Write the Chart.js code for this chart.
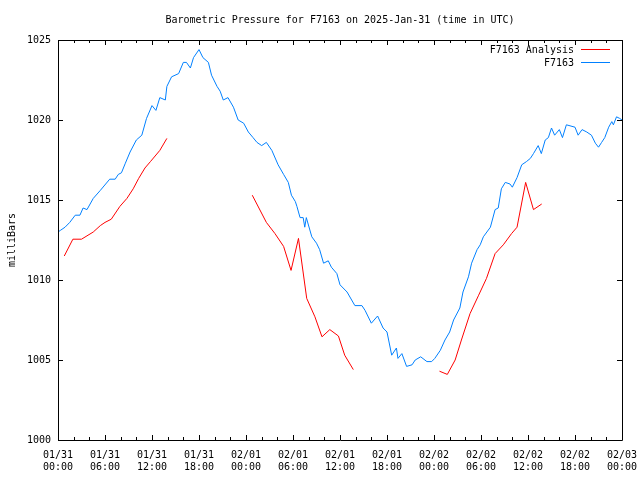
<!DOCTYPE html>
<html>
<head>
<meta charset="utf-8">
<script src="https://cdn.jsdelivr.net/npm/chart.js@4.4.1/dist/chart.umd.min.js"></script>
<style>
  body { margin: 0; background: #fff; }
  canvas { display: block; }
</style>
</head>
<body>
<canvas id="myChart" width="640" height="480"></canvas>
<script>
// hours since 01/31 00:00 UTC
const analysisHours = [0.8, 1.9, 3.0, 4.5, 5.4, 6.0, 6.8, 7.9, 8.8, 9.6, 10.3, 11.1, 11.8, 13.0, 13.9,
  20,
  24.8, 26.6, 27.7, 28.8, 29.75, 30.7, 31.75, 32.8, 33.7, 34.7, 35.8, 36.6, 37.7,
  43,
  48.7, 49.7, 50.7, 51.5, 52.6, 53.7, 54.7, 55.8, 56.85, 57.9, 58.6, 59.7, 60.7, 61.75];
const analysisPressure = [1011.5, 1012.55, 1012.55, 1013.0, 1013.4, 1013.6, 1013.8, 1014.6, 1015.1, 1015.7, 1016.35, 1017.0, 1017.4, 1018.1, 1018.85,
  null,
  1015.3, 1013.6, 1012.9, 1012.1, 1010.6, 1012.6, 1008.85, 1007.7, 1006.45, 1006.9, 1006.5, 1005.3, 1004.4,
  null,
  1004.3, 1004.1, 1005.0, 1006.25, 1007.9, 1009.05, 1010.1, 1011.65, 1012.2, 1012.9, 1013.3, 1016.1, 1014.4, 1014.75];

const stationHours = [0, 0.3, 0.9, 1.5, 2.2, 2.8, 3.2, 3.7, 4.5, 5.4, 6.6, 7.3, 7.7, 8.1, 8.6, 9.2, 10.0, 10.7, 11.3, 12.0,
  12.5, 13.0, 13.7, 13.9, 14.5, 15.4, 16.0, 16.4, 16.9, 17.3, 18.0, 18.5, 19.2, 19.6, 20.3, 20.7, 21.1, 21.7, 22.4, 23.0,
  23.7, 24.3, 24.9, 25.4, 26.0, 26.6, 27.3, 28.1, 28.8, 29.4, 29.8, 30.3, 30.5, 30.9, 31.3, 31.5, 31.7, 32.4, 33.0, 33.4,
  33.9, 34.5, 34.9, 35.6, 36.0, 36.9, 37.9, 38.8, 39.2, 40.0, 40.8, 41.5, 42.0, 42.6, 43.2, 43.4, 43.9, 44.5, 45.2, 45.6,
  46.3, 47.1, 47.7, 48.1, 48.8, 49.4, 50.0, 50.5, 51.3, 51.7, 52.4, 52.8, 53.5, 53.9, 54.3, 55.2, 55.8, 56.2, 56.6, 57.1,
  57.7, 58.0, 58.6, 59.2, 59.8, 60.3, 60.7, 61.3, 61.7, 62.2, 62.6, 63.0, 63.4, 64.0, 64.4, 64.9, 66.0, 66.4, 66.9, 67.5,
  68.1, 68.6, 69.0, 69.4, 69.8, 70.3, 70.7, 70.9, 71.3, 71.7, 72.0];
const stationPressure = [1013.0, 1013.1, 1013.3, 1013.6, 1014.05, 1014.05, 1014.5, 1014.4, 1015.1, 1015.6, 1016.3, 1016.3, 1016.6, 1016.7, 1017.3, 1018.0, 1018.75, 1019.05, 1020.1, 1020.9,
  1020.6, 1021.4, 1021.25, 1022.1, 1022.7, 1022.9, 1023.6, 1023.6, 1023.25, 1023.9, 1024.4, 1023.9, 1023.6, 1022.8, 1022.1, 1021.8, 1021.25, 1021.4, 1020.8, 1020.0,
  1019.8, 1019.25, 1018.9, 1018.6, 1018.4, 1018.6, 1018.1, 1017.2, 1016.6, 1016.1, 1015.3, 1014.9, 1014.6, 1013.9, 1013.9, 1013.3, 1013.9, 1012.7, 1012.3, 1011.9,
  1011.05, 1011.2, 1010.8, 1010.4, 1009.7, 1009.25, 1008.4, 1008.4, 1008.1, 1007.3, 1007.75, 1007.0, 1006.75, 1005.3, 1005.75, 1005.1, 1005.4, 1004.6, 1004.7, 1005.0,
  1005.2, 1004.9, 1004.9, 1005.1, 1005.6, 1006.25, 1006.75, 1007.5, 1008.25, 1009.25, 1010.2, 1011.05, 1011.9, 1012.2, 1012.7, 1013.3, 1014.4, 1014.5, 1015.7, 1016.1,
  1016.0, 1015.8, 1016.4, 1017.2, 1017.4, 1017.6, 1017.9, 1018.4, 1017.9, 1018.75, 1018.9, 1019.5, 1019.05, 1019.4, 1018.9, 1019.7, 1019.55, 1019.05, 1019.4, 1019.25,
  1019.05, 1018.55, 1018.3, 1018.6, 1018.9, 1019.55, 1019.9, 1019.7, 1020.2, 1020.1, 1020.0];

const dayLabels = ['01/31', '02/01', '02/02', '02/03'];
const hourLabels = ['00:00', '06:00', '12:00', '18:00'];
const yTicks = [1000, 1005, 1010, 1015, 1020, 1025];

const chartTitle = 'Barometric Pressure for F7163 on 2025-Jan-31 (time in UTC)';
const seriesNames = ['F7163 Analysis', 'F7163'];
const seriesColors = ['#ff0000', '#0080ff'];

function toPoints(xs, ys) {
  return xs.map(function (x, i) { return { x: x, y: ys[i] }; });
}

const FONT = "'DejaVu Sans Mono', 'Liberation Mono', monospace";
Chart.defaults.font.family = FONT;
Chart.defaults.font.size = 10;
Chart.defaults.color = '#000000';

// gnuplot style box, inward tics, title and key
const gnuFrame = {
  id: 'gnuFrame',
  afterDatasetsDraw(chart) {
    const ctx = chart.ctx;
    const a = chart.chartArea;
    const xs = chart.scales.x;
    const ys = chart.scales.y;
    ctx.save();
    ctx.strokeStyle = '#000';
    ctx.lineWidth = 1;
    ctx.beginPath();
    ctx.rect(Math.round(a.left) + 0.5, Math.round(a.top) + 0.5, Math.round(a.right - a.left), Math.round(a.bottom - a.top));
    xs.ticks.forEach(function (t) {
      const px = Math.round(xs.getPixelForValue(t.value)) + 0.5;
      const len = t.value % 6 === 0 ? 5 : 3;
      ctx.moveTo(px, a.bottom); ctx.lineTo(px, a.bottom - len);
      ctx.moveTo(px, a.top); ctx.lineTo(px, a.top + len);
    });
    ys.ticks.forEach(function (t) {
      const py = Math.round(ys.getPixelForValue(t.value)) + 0.5;
      ctx.moveTo(a.left, py); ctx.lineTo(a.left + 5, py);
      ctx.moveTo(a.right, py); ctx.lineTo(a.right - 5, py);
    });
    ctx.stroke();

    ctx.font = '10px ' + FONT;
    ctx.fillStyle = '#000';
    ctx.textAlign = 'center';
    ctx.textBaseline = 'middle';
    ctx.fillText(chartTitle, (a.left + a.right) / 2, 20);

    ctx.textAlign = 'right';
    chart.data.datasets.forEach(function (ds, i) {
      const y = Math.round(a.top + 9 + i * 13);
      ctx.fillStyle = '#000';
      ctx.fillText(ds.label, a.right - 48, y + 1);
      ctx.strokeStyle = ds.borderColor;
      ctx.beginPath();
      ctx.moveTo(a.right - 41, y + 0.5);
      ctx.lineTo(a.right - 12, y + 0.5);
      ctx.stroke();
    });
    ctx.restore();
  }
};

new Chart(document.getElementById('myChart'), {
  type: 'line',
  data: {
    datasets: [{
      label: seriesNames[0],
      data: toPoints(analysisHours, analysisPressure),
      borderColor: seriesColors[0],
      borderWidth: 1,
      pointRadius: 0,
      spanGaps: false,
      tension: 0
    }, {
      label: seriesNames[1],
      data: toPoints(stationHours, stationPressure),
      borderColor: seriesColors[1],
      borderWidth: 1,
      pointRadius: 0,
      tension: 0
    }]
  },
  options: {
    responsive: false,
    animation: false,
    devicePixelRatio: 1,
    layout: { padding: { left: 0, right: 18, top: 40, bottom: 0 } },
    plugins: {
      legend: { display: false },
      tooltip: { enabled: false },
      title: { display: false }
    },
    scales: {
      x: {
        type: 'linear',
        min: 0,
        max: 72,
        grid: { display: false },
        border: { display: false },
        afterFit: function (s) { s.height = 40; },
        ticks: {
          stepSize: 2,
          autoSkip: false,
          maxRotation: 0,
          padding: 2,
          font: { size: 10, lineHeight: 1.15 },
          callback: function (v) {
            if (v % 6 !== 0) return '';
            return [dayLabels[Math.floor(v / 24)], hourLabels[(v % 24) / 6]];
          }
        }
      },
      y: {
        min: yTicks[0],
        max: yTicks[yTicks.length - 1],
        grid: { display: false, drawTicks: false },
        border: { display: false },
        afterFit: function (s) { s.width = 58; },
        afterBuildTicks: function (s) { s.ticks = yTicks.map(function (v) { return { value: v }; }); },
        ticks: {
          padding: 7,
          font: { size: 10 },
          callback: function (v) { return String(v); }
        },
        title: { display: true, text: 'milliBars', font: { size: 10 }, padding: { top: 6, bottom: 0 } }
      }
    }
  },
  plugins: [gnuFrame]
});
</script>
</body>
</html>
